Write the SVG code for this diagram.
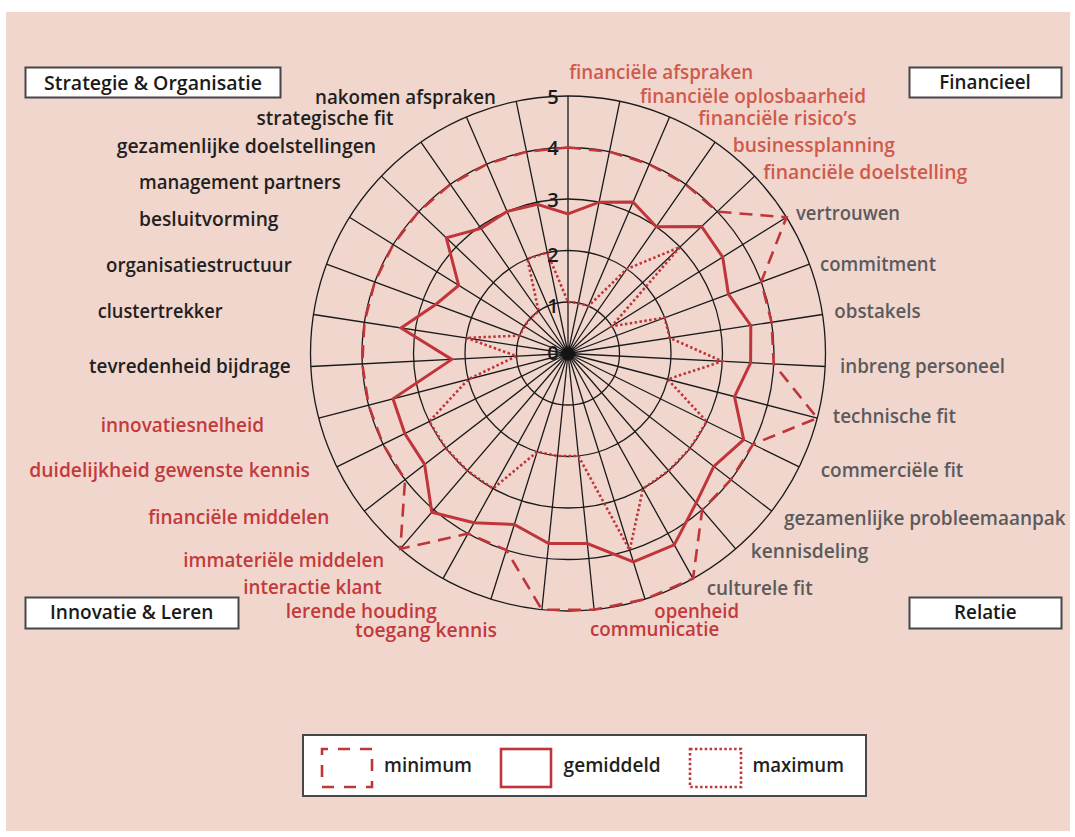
<svg xmlns="http://www.w3.org/2000/svg" width="1075" height="837" viewBox="0 0 1075 837">
<style>
.lbl{font-family:"Open Sans","Liberation Sans",sans-serif;font-size:19px;font-weight:600}
.s{fill:#231f20}
.f{fill:#cf5a4b}
.r{fill:#5b5b5b}
.i{fill:#c23a3c}
.ttl{font-family:"Open Sans","Liberation Sans",sans-serif;font-size:19px;font-weight:600;fill:#1a1a1a}
.dig{font-family:"Open Sans","Liberation Sans",sans-serif;font-size:20px;font-weight:600;fill:#1a1a1a;text-anchor:middle}
.box{fill:#fff;stroke:#474747;stroke-width:2}
.grid{fill:none;stroke:#1a1a1a;stroke-width:1.3}
.min{fill:none;stroke:#c0353a;stroke-width:2.6;stroke-dasharray:13 8}
.avg{fill:none;stroke:#c0353a;stroke-width:3;stroke-linejoin:miter}
.max{fill:none;stroke:#c0353a;stroke-width:2.6;stroke-dasharray:2.5 2.4}
</style>
<rect x="0" y="0" width="1075" height="837" fill="#ffffff"/>
<rect x="6" y="12" width="1064" height="819" fill="#f1d6ce"/>

<g id="grid">
<circle class="grid" cx="568" cy="353.5" r="51.5"/>
<circle class="grid" cx="568" cy="353.5" r="103"/>
<circle class="grid" cx="568" cy="353.5" r="154.5"/>
<circle class="grid" cx="568" cy="353.5" r="206"/>
<circle class="grid" cx="568" cy="353.5" r="257.5"/>
<path class="grid" d="M568 353.5L568 96M568 353.5L619.8 101.3M568 353.5L669.6 116.9M568 353.5L715.1 142.1M568 353.5L754.6 176.1M568 353.5L786.5 217.3M568 353.5L809.5 264.1M568 353.5L822.5 314.5M568 353.5L825.2 366.5M568 353.5L817.3 418.1M568 353.5L799.2 466.9M568 353.5L771.6 511.1M568 353.5L735.7 548.9M568 353.5L693 578.6M568 353.5L645.1 599.2M568 353.5L594.1 609.7M568 353.5L541.9 609.7M568 353.5L490.9 599.2M568 353.5L443 578.6M568 353.5L400.3 548.9M568 353.5L364.4 511.1M568 353.5L336.8 466.9M568 353.5L318.7 418.1M568 353.5L310.8 366.5M568 353.5L313.5 314.5M568 353.5L326.5 264.1M568 353.5L349.5 217.3M568 353.5L381.4 176.1M568 353.5L420.9 142.1M568 353.5L466.4 116.9M568 353.5L516.2 101.3"/>
<circle cx="568" cy="353.5" r="6" fill="#141414"/>
<text class="dig" x="553" y="104">5</text>
<text class="dig" x="553" y="155">4</text>
<text class="dig" x="553" y="207">3</text>
<text class="dig" x="553" y="262">2</text>
<text class="dig" x="553" y="313">1</text>
<text class="dig" x="553" y="360">0</text>
</g>

<g id="connectors">
<polygon id="series-minimum" class="min" points="568,147.5 609.5,151.7 649.2,164.2 685.7,184.4 717.3,211.6 786.5,217.3 761.2,281.9 771.6,322.3 773.7,363.9 817.3,418.1 753,444.2 730.9,479.6 702.2,509.8 693,578.6 645.1,599.2 594.1,609.7 541.9,609.7 506.3,550.1 468,533.6 400.3,548.9 405.1,479.6 383,444.2 368.6,405.1 362.3,363.9 364.4,322.3 374.8,281.9 393.2,244.5 418.7,211.6 450.3,184.4 486.8,164.2 526.5,151.7"/>
<polygon id="series-gemiddeld" class="avg" points="568,213.9 599.1,202.2 633,202 656.3,226.7 701.6,226.5 722.7,257.1 728.4,294.1 750.8,325.5 750.6,362.8 734.5,396.6 743.7,439.7 713.8,466.3 696.2,502.8 674.2,544.9 633.4,561.9 587.3,543.6 548.7,543.6 514.3,524.5 474,522.8 431.8,512.2 424.6,464.4 404.8,433.6 393,398.8 451.8,359.4 401,327.9 435.7,304.5 458.7,285.4 446.3,237.8 480.9,228.4 507.1,211.5 537.3,204.2"/>
<polygon id="series-maximum" class="max" points="568,302 578.4,303.1 588.3,306.2 626.8,269 680,247.1 611.7,326.3 664.6,317.7 669.8,337.9 722.3,361.3 667.7,379.3 706.7,421.5 690.2,448.1 668.7,470.7 643,488.6 629.7,550.1 578.4,456 557.6,456 537.2,451.8 493,488.6 467.4,470.7 445.8,448.1 429.3,421.5 468.3,379.3 516.6,356.1 466.2,337.9 519.7,335.6 524.3,326.3 530.7,318 538.6,311.2 527.4,258.8 547.3,252.6"/>
</g>

<g id="box-strategie">
<rect class="box" x="25.5" y="67.5" width="255" height="30"/>
<text class="ttl" x="44" y="89.5" textLength="218" lengthAdjust="spacingAndGlyphs">Strategie &amp; Organisatie</text>
</g>
<g id="box-financieel">
<rect class="box" x="909.5" y="67.5" width="152" height="30"/>
<text class="ttl" x="939.3" y="89" textLength="91.5" lengthAdjust="spacingAndGlyphs">Financieel</text>
</g>
<g id="box-innovatie">
<rect class="box" x="25.5" y="597.5" width="213" height="31"/>
<text class="ttl" x="50" y="619.3" textLength="163.3" lengthAdjust="spacingAndGlyphs">Innovatie &amp; Leren</text>
</g>
<g id="box-relatie">
<rect class="box" x="909.5" y="597.5" width="152" height="31"/>
<text class="ttl" x="954" y="618.5" textLength="62.7" lengthAdjust="spacingAndGlyphs">Relatie</text>
</g>

<g id="labels-strategie" class="lbl s">
<text x="315" y="103.5" textLength="181" lengthAdjust="spacingAndGlyphs">nakomen afspraken</text>
<text x="256.5" y="124.5" textLength="137" lengthAdjust="spacingAndGlyphs">strategische fit</text>
<text x="116.7" y="152.5" textLength="259.5" lengthAdjust="spacingAndGlyphs">gezamenlijke doelstellingen</text>
<text x="139" y="189" textLength="201.7" lengthAdjust="spacingAndGlyphs">management partners</text>
<text x="139" y="225.5" textLength="139.5" lengthAdjust="spacingAndGlyphs">besluitvorming</text>
<text x="106" y="272" textLength="185.7" lengthAdjust="spacingAndGlyphs">organisatiestructuur</text>
<text x="97.7" y="318" textLength="125" lengthAdjust="spacingAndGlyphs">clustertrekker</text>
<text x="89" y="372.5" textLength="201.7" lengthAdjust="spacingAndGlyphs">tevredenheid bijdrage</text>
</g>

<g id="labels-financieel" class="lbl f">
<text x="569.3" y="79" textLength="184" lengthAdjust="spacingAndGlyphs">financiële afspraken</text>
<text x="640" y="103.3" textLength="226" lengthAdjust="spacingAndGlyphs">financiële oplosbaarheid</text>
<text x="698.3" y="125" textLength="158.4" lengthAdjust="spacingAndGlyphs">financiële risico’s</text>
<text x="732.7" y="152.3" textLength="162.3" lengthAdjust="spacingAndGlyphs">businessplanning</text>
<text x="763.3" y="179" textLength="204" lengthAdjust="spacingAndGlyphs">financiële doelstelling</text>
</g>

<g id="labels-relatie" class="lbl r">
<text x="796" y="220" textLength="104" lengthAdjust="spacingAndGlyphs">vertrouwen</text>
<text x="820" y="271" textLength="116" lengthAdjust="spacingAndGlyphs">commitment</text>
<text x="834.3" y="318.3" textLength="86.4" lengthAdjust="spacingAndGlyphs">obstakels</text>
<text x="840" y="373.3" textLength="165" lengthAdjust="spacingAndGlyphs">inbreng personeel</text>
<text x="832.7" y="422.7" textLength="123.3" lengthAdjust="spacingAndGlyphs">technische fit</text>
<text x="820.7" y="476.7" textLength="142.6" lengthAdjust="spacingAndGlyphs">commerciële fit</text>
<text x="784" y="525" textLength="281.7" lengthAdjust="spacingAndGlyphs">gezamenlijke probleemaanpak</text>
<text x="750.7" y="558.3" textLength="117.6" lengthAdjust="spacingAndGlyphs">kennisdeling</text>
<text x="706.7" y="595" textLength="106" lengthAdjust="spacingAndGlyphs">culturele fit</text>
<text class="i" x="654.3" y="618.3" textLength="84.7" lengthAdjust="spacingAndGlyphs">openheid</text>
<text class="i" x="590" y="636" textLength="129.3" lengthAdjust="spacingAndGlyphs">communicatie</text>
</g>

<g id="labels-innovatie" class="lbl i">
<text x="100.7" y="431.7" textLength="163.3" lengthAdjust="spacingAndGlyphs">innovatiesnelheid</text>
<text x="29.3" y="476.7" textLength="280.7" lengthAdjust="spacingAndGlyphs">duidelijkheid gewenste kennis</text>
<text x="148.3" y="524" textLength="181" lengthAdjust="spacingAndGlyphs">financiële middelen</text>
<text x="183.3" y="567.3" textLength="201" lengthAdjust="spacingAndGlyphs">immateriële middelen</text>
<text x="243.3" y="594.3" textLength="138.4" lengthAdjust="spacingAndGlyphs">interactie klant</text>
<text x="285.7" y="618.3" textLength="151" lengthAdjust="spacingAndGlyphs">lerende houding</text>
<text x="355" y="636.5" textLength="142" lengthAdjust="spacingAndGlyphs">toegang kennis</text>
</g>

<g id="legend">
<rect class="box" x="303" y="735" width="563" height="61"/>
<rect x="322" y="749" width="50" height="38" fill="none" stroke="#c0353a" stroke-width="2.6" stroke-dasharray="6 10 12 10 12 10 12 10 12 10 12 10 12 10 12 10 6"/>
<text class="lbl s" x="384" y="772" textLength="88" lengthAdjust="spacingAndGlyphs">minimum</text>
<rect x="501" y="749" width="50" height="38" fill="none" stroke="#c0353a" stroke-width="2.6"/>
<text class="lbl s" x="563.6" y="772" textLength="97" lengthAdjust="spacingAndGlyphs">gemiddeld</text>
<rect x="690" y="749" width="51" height="38" fill="none" stroke="#c0353a" stroke-width="2.6" stroke-dasharray="2.5 2.4"/>
<text class="lbl s" x="752.5" y="772" textLength="91.5" lengthAdjust="spacingAndGlyphs">maximum</text>
</g>
</svg>
